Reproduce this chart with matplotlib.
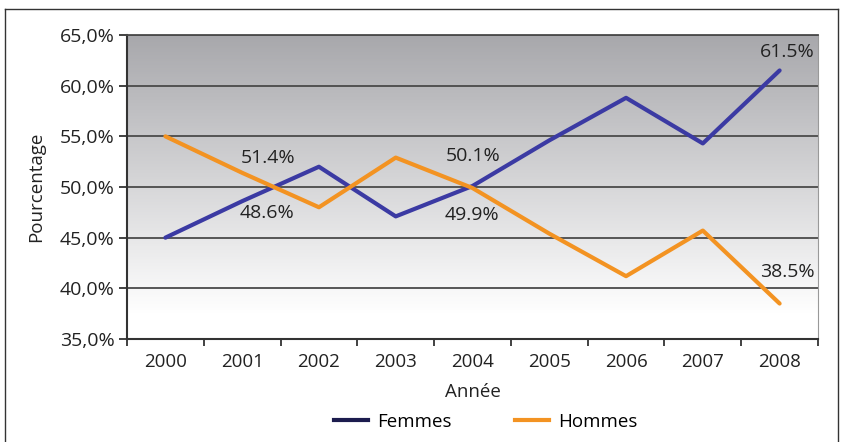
import matplotlib
matplotlib.use('Agg')
import matplotlib.pyplot as plt
import numpy as np
from matplotlib.colors import LinearSegmentedColormap
from matplotlib.lines import Line2D

years = ['2000', '2001', '2002', '2003', '2004', '2005', '2006', '2007', '2008']
femmes = [45.0, 48.6, 52.0, 47.1, 50.1, 54.6, 58.8, 54.3, 61.5]
hommes = [55.0, 51.4, 48.0, 52.9, 49.9, 45.4, 41.2, 45.7, 38.5]
yticks = [35, 40, 45, 50, 55, 60, 65]

# labelled points: (year index, value, text, offset in pixels)
labels = [(1, 51.4, '51.4%', (26, 15)), (1, 48.6, '48.6%', (25, -12)),
          (4, 50.1, '50.1%', (1, 30)), (4, 49.9, '49.9%', (-1, -27)),
          (8, 61.5, '61.5%', (8, 18)), (8, 38.5, '38.5%', (8, 32))]

plt.rcParams['font.family'] = ['Open Sans', 'DejaVu Sans']
txt = '#222222'

fig = plt.figure(figsize=(8.42, 4.42), dpi=100, facecolor='white')
ax = fig.add_axes([127 / 842, 1 - 339 / 442, 691 / 842, 304 / 442])

x = np.arange(len(years))
ax.set_xlim(-0.5, len(years) - 0.5)
ax.set_ylim(35, 65)

# grey to white background gradient (white at the bottom)
grad = np.linspace(0, 1, 256).reshape(-1, 1)
grad = np.clip((grad - 0.08) / 0.92, 0, 1)
ax.imshow(grad, aspect='auto', cmap=LinearSegmentedColormap.from_list('bg', ['#ffffff', '#a8a8ac']),
          origin='lower', extent=(-0.5, len(years) - 0.5, 35, 65), zorder=0)

for yv in yticks[1:]:
    ax.axhline(yv, color='#4a4a4a', lw=1.3, zorder=1)

ax.plot(x, femmes, color='#3b3aa3', lw=3, zorder=3, solid_capstyle='round')
ax.plot(x, hommes, color='#f39322', lw=3, zorder=3, solid_capstyle='round')

for i, v, t, off in labels:
    ax.annotate(t, (x[i], v), xytext=off, textcoords='offset pixels',
                ha='center', va='center', fontsize=14, color=txt, zorder=4)

ax.set_yticks(yticks)
ax.set_yticklabels(['%d,0%%' % v for v in yticks], fontsize=14, color=txt)
ax.set_xticks(x)
ax.set_xticklabels(years, fontsize=13.5, color=txt)
ax.set_xticks(np.arange(-0.5, len(years), 1), minor=True)
ax.tick_params(axis='x', which='major', length=0, pad=10)
ax.tick_params(axis='x', which='minor', length=5, width=1.3, color='#333333')
ax.tick_params(axis='y', length=6, width=1.3, color='#333333', pad=3)

for s in ['left', 'bottom']:
    ax.spines[s].set_color('#333333')
    ax.spines[s].set_linewidth(1.5)
ax.spines['right'].set_color('#999999')
ax.spines['top'].set_color('#4a4a4a')
ax.spines['top'].set_linewidth(1.3)

ax.set_xlabel('Année', fontsize=13.5, color=txt, labelpad=9)
ax.set_ylabel('Pourcentage', fontsize=13.5, color=txt, labelpad=10)

handles = [Line2D([], [], color='#1c1c4e', lw=3), Line2D([], [], color='#f39322', lw=3)]
fig.legend(handles, ['Femmes', 'Hommes'], loc='center', bbox_to_anchor=(486 / 842, 1 - 422 / 442),
           ncol=2, frameon=False, fontsize=13.5, handlelength=1.8, handletextpad=0.5,
           columnspacing=3.4)

# outer frame
fig.add_artist(Line2D([5 / 842, 5 / 842], [0, 1 - 9 / 442], transform=fig.transFigure, color='#333333', lw=1))
fig.add_artist(Line2D([5 / 842, 838 / 842], [1 - 9 / 442, 1 - 9 / 442], transform=fig.transFigure, color='#333333', lw=1))
fig.add_artist(Line2D([838 / 842, 838 / 842], [0, 1 - 9 / 442], transform=fig.transFigure, color='#333333', lw=1))

fig.savefig('out.png', dpi=100, facecolor='white')
